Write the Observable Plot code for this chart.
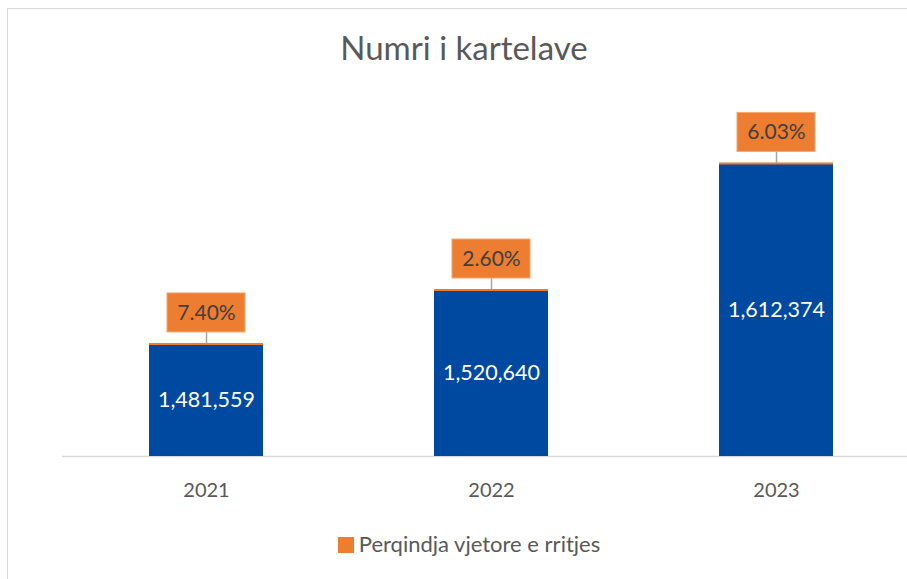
<!DOCTYPE html>
<html>
<head>
<meta charset="utf-8">
<script src="https://cdn.jsdelivr.net/npm/d3@7"></script>
<script src="https://cdn.jsdelivr.net/npm/@observablehq/plot@0.6"></script>
<style>
  html, body { margin: 0; padding: 0; background: #fff; }
  #wrap { position: relative; width: 907px; height: 579px; overflow: hidden; font-family: Lato, "Open Sans", sans-serif; }
  #chart { position: absolute; left: 0; top: 0; }
  #frame { position: absolute; left: 7px; top: 8px; width: 960px; height: 620px; border-top: 1.5px solid #d9d9d9; border-left: 1.5px solid #d9d9d9; pointer-events: none; }
  #title { position: absolute; left: 7px; width: 914px; top: 31px; text-align: center; font-size: 33px; color: #595959; line-height: 1; }
  #legend { position: absolute; left: 0; width: 938px; top: 533px; text-align: center; font-size: 22px; color: #595959; line-height: 1; white-space: nowrap; }
  #legend .sw { display: inline-block; width: 16px; height: 16px; background: #ED7D31; vertical-align: -1px; margin-right: 5px; }
</style>
</head>
<body>
<div id="wrap">
  <div id="chart"></div>
  <div id="frame"></div>
  <div id="title"></div>
  <div id="legend"></div>
</div>
<script>
const titleText = "Numri i kartelave";
const legendLabel = "Perqindja vjetore e rritjes";
const years = ["2021", "2022", "2023"];
const cards = [1481559, 1520640, 1612374];
const growth = [7.40, 2.60, 6.03];
const axisMin = 1400000;
const axisMax = 1650000;

const blue = "#0049A0";
const orange = "#ED7D31";

const data = years.map((y, i) => ({year: y, value: cards[i], pct: growth[i]}));
const fmt = d3.format(",");

document.getElementById("title").textContent = titleText;
document.getElementById("legend").innerHTML = '<span class="sw"></span>' + legendLabel;

const chart = Plot.plot({
  width: 907,
  height: 579,
  marginTop: 111,
  marginBottom: 123,
  marginLeft: 62,
  marginRight: 0,
  style: {background: "transparent", overflow: "visible", fontFamily: "Lato, 'Open Sans', sans-serif"},
  x: {domain: years, range: [62, 919], paddingInner: 0.6, paddingOuter: 0.3, label: null},
  y: {domain: [axisMin, axisMax], axis: null},
  marks: [
    Plot.ruleY([axisMin], {stroke: "#d9d9d9", strokeWidth: 1.5}),
    Plot.barY(data, {x: "year", y1: () => axisMin, y2: "value", fill: blue}),
    Plot.tickY(data, {x: "year", y: "value", stroke: orange, strokeWidth: 2}),
    Plot.ruleX(data, {x: "year", y1: "value", y2: "value", insetTop: -11.5, insetBottom: 0, stroke: "#a6a6a6", strokeWidth: 1.5}),
    Plot.barY(data, {x: "year", y1: "value", y2: "value", insetTop: -50.5, insetBottom: 11.5, insetLeft: 18, insetRight: 18, fill: orange, stroke: "#f4a66f", strokeWidth: 1}),
    Plot.text(data, {x: "year", y: "value", text: d => d.pct.toFixed(2) + "%", dy: -31, fill: "#404040", fontSize: 21}),
    Plot.text(data, {x: "year", y: d => (axisMin + d.value) / 2, text: d => fmt(d.value), fill: "white", fontSize: 21.5}),
    Plot.axisX({tickSize: 0, tickPadding: 26, fontSize: 20, color: "#595959", label: null})
  ]
});
document.getElementById("chart").appendChild(chart);
</script>
</body>
</html>
